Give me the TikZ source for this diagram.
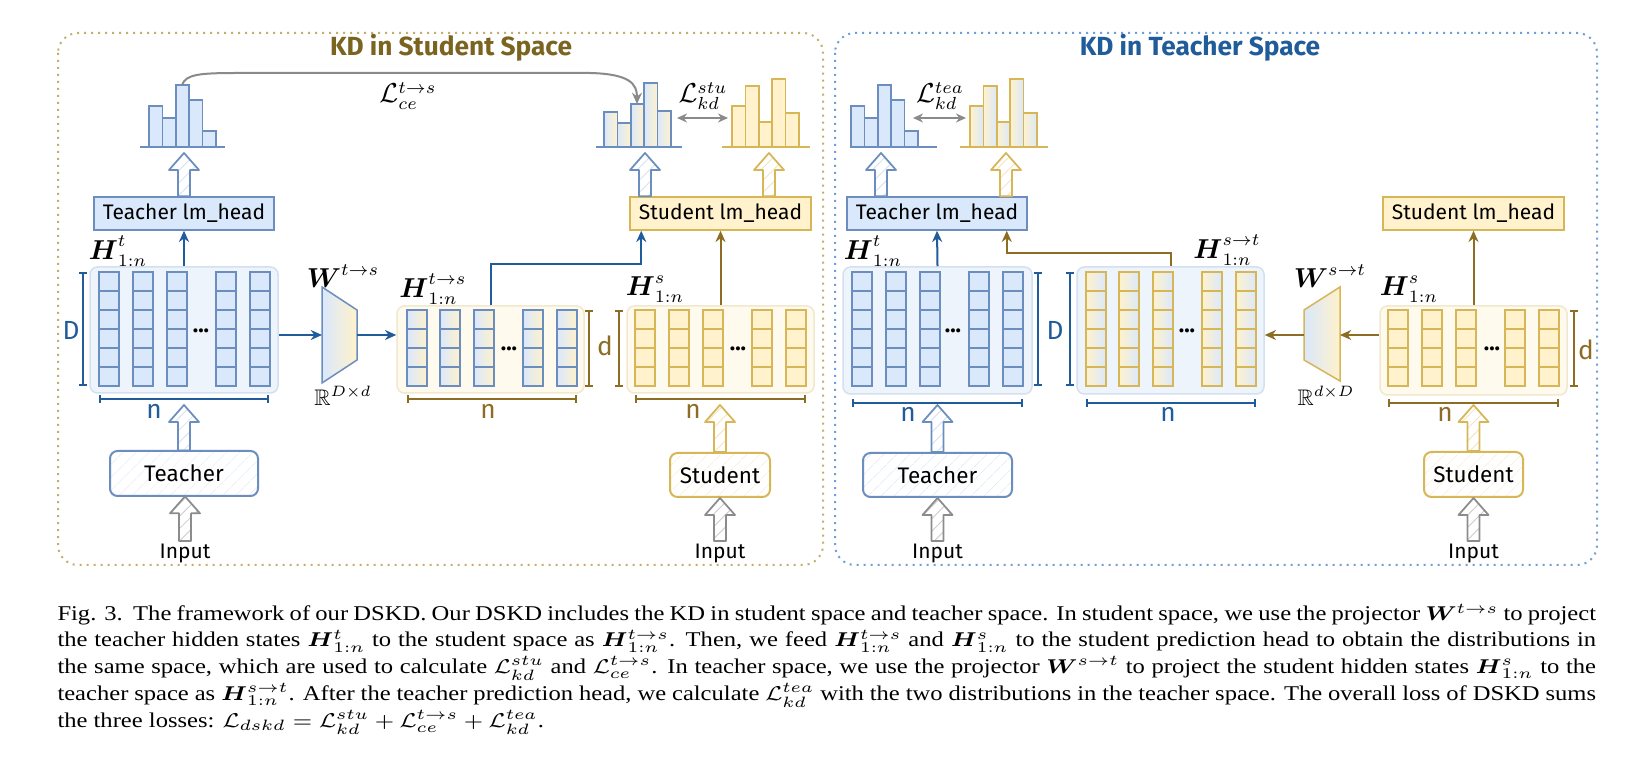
\documentclass[tikz,border=0pt]{standalone}
\usepackage{fontspec}
\usepackage{amsmath,amssymb}
\usepackage{graphicx}
\usetikzlibrary{arrows.meta,patterns.meta,calc}
\newfontfamily\dfont{Fira Sans}
\newfontfamily\capfont{Liberation Serif}
\definecolor{bB}{HTML}{6C8EBF}
\definecolor{bF}{HTML}{DAE8FC}
\definecolor{yB}{HTML}{D6B656}
\definecolor{yF}{HTML}{FFF2CC}
\definecolor{dB}{HTML}{1F5C99}
\definecolor{oA}{HTML}{8C6D23}
\definecolor{tO}{HTML}{7A6420}
\definecolor{cBF}{HTML}{EEF4FB}
\definecolor{cBB}{HTML}{D4E0EF}
\definecolor{cYF}{HTML}{FEFAEE}
\definecolor{cYB}{HTML}{F1E8CE}
\definecolor{pO}{HTML}{C4AE6E}
\definecolor{pB}{HTML}{6F9FD4}
\definecolor{gA}{HTML}{8A8A8A}
\newlength\capw \setlength\capw{526pt}
\newcommand\capline[1]{\scalebox{1.17}[1]{\makebox[\capw][s]{#1}}}
\newcommand\capend[1]{\scalebox{1.17}[1]{#1}}
\newcommand\mcols[4]{\foreach \cx in {#1}{\foreach \k in {1,...,#3}{\draw[#4] (\cx,#2+\k*19-19) rectangle ++(20,19);}}}
\newcommand\histo[5]{\foreach \t [count=\i from 0] in {#4}{\draw[#5] (#1+\i*13.4,\t) rectangle (#1+\i*13.4+13.4,147);}}
\newcommand\bH{\boldsymbol{H}}
\newcommand\bW{\boldsymbol{W}}
\tikzset{
  hollow/.style={line width=0.7pt, line join=round,
    pattern={Lines[angle=45,distance=3.5pt,line width=0.35pt]},
    to path={let \p1=(\tikztostart), \p2=(\tikztotarget) in
      (\x1-2.4pt,\y1) -- (\x1-2.4pt,\y2-6.8pt) -- (\x1-6pt,\y2-6.8pt) -- (\x1,\y2)
      -- (\x1+6pt,\y2-6.8pt) -- (\x1+2.4pt,\y2-6.8pt) -- (\x1+2.4pt,\y1) -- cycle}},
  hollowB/.style={hollow, draw=bB, pattern color=bF!70!bB!60},
  hollowY/.style={hollow, draw=yB, pattern color=yF!60!yB!70},
  hollowG/.style={hollow, draw=gray!90, pattern color=gray!40},
  headB/.style={draw=bB, fill=bF, line width=0.6pt, inner sep=0pt, minimum height=13.2pt, font=\dfont\fontsize{8.4}{10}\selectfont},
  headY/.style={draw=yB, fill=yF, line width=0.6pt, inner sep=0pt, minimum height=13.2pt, font=\dfont\fontsize{8.4}{10}\selectfont},
  contB/.style={draw=cBB, fill=cBF, rounded corners=3pt, line width=0.6pt, inner sep=0pt},
  contY/.style={draw=cYB, fill=cYF, rounded corners=3pt, line width=0.6pt, inner sep=0pt},
  modelB/.style={draw=bB, rounded corners=3pt, line width=0.8pt, inner sep=0pt,
    pattern={Lines[angle=45,distance=4pt,line width=0.3pt]}, pattern color=bF!80!bB!70,
    font=\dfont\fontsize{9}{10}\selectfont},
  modelY/.style={draw=yB, rounded corners=3pt, line width=0.8pt, inner sep=0pt,
    pattern={Lines[angle=45,distance=4pt,line width=0.3pt]}, pattern color=yF!60!yB!60,
    font=\dfont\fontsize{9}{10}\selectfont},
  inp/.style={inner sep=1pt, anchor=north, font=\dfont\fontsize{8.4}{10}\selectfont},
  cellB/.style={draw=bB, fill=bF, line width=0.5pt},
  cellY/.style={draw=yB, fill=yF, line width=0.5pt},
  cellBY/.style={draw=bB, left color=bF, right color=yF, line width=0.5pt},
  cellYB/.style={draw=yB, left color=yF, right color=bF, line width=0.5pt},
  arrB/.style={draw=dB, line width=0.8pt, -{Stealth[length=4.5pt,width=4pt]}},
  arrO/.style={draw=oA, line width=0.8pt, -{Stealth[length=4.5pt,width=4pt]}},
  arrG/.style={draw=gA, line width=0.8pt, {Stealth[length=4pt,width=3.6pt]}-{Stealth[length=4pt,width=3.6pt]}},
  brkB/.style={draw=dB, line width=0.7pt, {Bar[width=3.2pt]}-{Bar[width=3.2pt]}},
  brkO/.style={draw=oA, line width=0.7pt, {Bar[width=3.2pt]}-{Bar[width=3.2pt]}},
  dimB/.style={text=dB, font=\dfont\fontsize{10.5}{12}\selectfont},
  dimO/.style={text=oA, font=\dfont\fontsize{10.5}{12}\selectfont},
  mlab/.style={font=\fontsize{10.5}{11}\selectfont, inner sep=0pt},
  rlab/.style={font=\fontsize{9}{10}\selectfont, inner sep=0pt},
  dots/.style={font=\dfont\bfseries\fontsize{9}{10}\selectfont, inner sep=0pt, anchor=base},
  ttl/.style={font=\dfont\bfseries\fontsize{10.5}{12}\selectfont},
  capl/.style={anchor=base west, inner sep=0pt, font=\capfont\fontsize{8.4}{10}\selectfont}
}
\begin{document}
\begin{tikzpicture}[x=0.4pt,y=-0.4pt]
\useasboundingbox (0,0) rectangle (1650,770);
\fill[white] (0,0) rectangle (1650,770);

% panels
\draw[pO, dotted, line width=0.8pt, rounded corners=8pt] (58,33) rectangle (823,565);
\draw[pB, dotted, line width=0.8pt, rounded corners=8pt] (835,33) rectangle (1597,565);
\node[ttl, text=tO] (titleL) at (451,48) {KD in Student Space};
\node[ttl, text=dB] (titleR) at (1200,48) {KD in Teacher Space};

%%%%%%%%%%%%%%%% LEFT PANEL %%%%%%%%%%%%%%%%
\histo{149}{140}{225}{106,118,85,100,131}{draw=bB, fill=bF, line width=0.6pt}
\draw[bB, line width=0.6pt] (140,147) -- (225,147);
\histo{604}{596}{682}{112,123,104,83,111}{draw=bB, left color=bF, right color=yF, line width=0.6pt}
\draw[bB, line width=0.6pt] (596,147) -- (682,147);
\histo{732}{722}{810}{106,86,122,79,113}{draw=yB, fill=yF, line width=0.6pt}
\draw[yB, line width=0.6pt] (722,147) -- (810,147);
\coordinate (tbar) at (182,85);
\coordinate (sbar) at (637,104);
\coordinate (kdL1) at (677,118);
\coordinate (kdL2) at (728,118);
\draw[gA, line width=0.8pt, -{Stealth[length=4.5pt,width=4pt]}] (tbar) .. controls (186,74) and (200,73) .. (240,73) -- (590,73) .. controls (630,74) and (637,84) .. (sbar);
\node[mlab] (Lce) at (408,96) {$\mathcal{L}_{ce}^{t\rightarrow s}$};
\draw[arrG] (kdL1) -- (kdL2);
\node[mlab] (Lstu) at (703,96) {$\mathcal{L}_{kd}^{stu}$};

\node[headB, minimum width=72pt] (thL) at (184,213.5) {Teacher lm\_head};
\node[headY, minimum width=72.4pt] (shL) at (720.5,213.5) {Student lm\_head};
\coordinate (thLh) at (184,153);
\coordinate (sLh1) at (645,153);
\coordinate (sLh2) at (769,153);
\draw[hollowB] (thL.north) to (thLh);
\draw[hollowB] (sLh1 |- shL.north) to (sLh1);
\draw[hollowY] (sLh2 |- shL.north) to (sLh2);

\node[contB, minimum width=75.2pt, minimum height=50.4pt] (HtL) at (184,330) {};
\node[contY, minimum width=74.8pt, minimum height=34.8pt] (HtsL) at (490.5,349.5) {};
\node[contY, minimum width=74.8pt, minimum height=34.8pt] (HsL) at (720.5,349.5) {};
\mcols{99,133,167,216,250}{272}{6}{cellB}
\mcols{407,440,474,523,557}{310}{4}{cellBY}
\mcols{635,669,703,752,786}{310}{4}{cellY}
\node[dots] at (201,333) {...};
\node[dots] at (509,351) {...};
\node[dots] at (738,351) {...};
\node[mlab] (HtLlab) at (118,251) {$\bH_{1:n}^{t}$};
\node[mlab] (HtsLlab) at (433,289) {$\bH_{1:n}^{t\rightarrow s}$};
\node[mlab] (HsLlab) at (655,289) {$\bH_{1:n}^{s}$};

\draw[brkB] (83,272) -- (83,386);
\node[dimB] at (71,330) {D};
\draw[brkB] (99,399) -- (269,399);
\node[dimB] at (154,411) {n};
\draw[brkO] (589,310) -- (589,387);
\draw[brkO] (619,310) -- (619,387);
\node[dimO] at (605,346) {d};
\draw[brkO] (407,399) -- (577,399);
\node[dimO] at (488,411) {n};
\draw[brkO] (635,399) -- (806,399);
\node[dimO] at (693,411) {n};

\draw[draw=bB, left color=bF, right color=yF, line width=0.6pt] (322,287) -- (357,310) -- (357,360) -- (322,383) -- cycle;
\coordinate (WLin) at (322,335);
\coordinate (WLout) at (357,335);
\node[mlab] (WLlab) at (343,276) {$\bW^{t\rightarrow s}$};
\node[rlab] (RL) at (343,396) {$\mathbb{R}^{D\times d}$};
\draw[arrB] (HtL.east |- WLin) -- (WLin);
\draw[arrB] (WLout) -- (HtsL.west |- WLout);

\draw[arrB] (HtL.north) -- (thL.south);
\draw[arrB] (HtsL.north) -- ++(0,-41) -| ([xshift=4.8pt]shL.south west);
\draw[arrO] (HsL.north) -- (shL.south);

\node[modelB, minimum width=59.2pt, minimum height=18pt] (teacherL) at (184,473.5) {Teacher};
\node[modelY, minimum width=40pt, minimum height=17.6pt] (studentL) at (720,475) {Student};
\coordinate (tLn) at (184,405);
\coordinate (sLn) at (720,405);
\draw[hollowB] (teacherL.north) to (tLn);
\draw[hollowY] (studentL.north) to (sLn);
\node[inp] (inL1) at (185,541) {Input};
\node[inp] (inL2) at (720,541) {Input};
\draw[hollowG] (inL1.north) to (teacherL.south);
\draw[hollowG] (inL2.north) to (studentL.south);

%%%%%%%%%%%%%%%% RIGHT PANEL %%%%%%%%%%%%%%%%
\histo{851}{850}{937}{106,118,85,100,131}{draw=bB, fill=bF, line width=0.6pt}
\draw[bB, line width=0.6pt] (850,147) -- (937,147);
\histo{970}{960}{1048}{106,86,122,79,113}{draw=yB, left color=yF, right color=bF, line width=0.6pt}
\draw[yB, line width=0.6pt] (960,147) -- (1048,147);
\coordinate (kdR1) at (913,118);
\coordinate (kdR2) at (966,118);
\draw[arrG] (kdR1) -- (kdR2);
\node[mlab] (Ltea) at (940,96) {$\mathcal{L}_{kd}^{tea}$};

\node[headB, minimum width=72pt] (thR) at (937,213.5) {Teacher lm\_head};
\node[headY, minimum width=72.4pt] (shR) at (1473.5,213.5) {Student lm\_head};
\coordinate (tRh1) at (881,153);
\coordinate (tRh2) at (1006,153);
\draw[hollowB] (tRh1 |- thR.north) to (tRh1);
\draw[hollowY] (tRh2 |- thR.north) to (tRh2);

\node[contB, minimum width=75.6pt, minimum height=50.8pt] (HtR) at (937.5,330.5) {};
\node[contB, minimum width=74.8pt, minimum height=50.8pt] (HstR) at (1170.5,330.5) {};
\node[contY, minimum width=74.8pt, minimum height=35.6pt] (HsR) at (1473.5,350.5) {};
\mcols{852,886,920,969,1003}{272}{6}{cellB}
\mcols{1086,1119,1153,1202,1236}{272}{6}{cellYB}
\mcols{1388,1422,1456,1505,1539}{310}{4}{cellY}
\node[dots] at (953,333) {...};
\node[dots] at (1187,333) {...};
\node[dots] at (1492,351) {...};
\node[mlab] (HtRlab) at (873,251) {$\bH_{1:n}^{t}$};
\node[mlab] (HstRlab) at (1227,250) {$\bH_{1:n}^{s\rightarrow t}$};
\node[mlab] (HsRlab) at (1409,289) {$\bH_{1:n}^{s}$};

\draw[brkB] (1038,272) -- (1038,386);
\draw[brkB] (1070,272) -- (1070,386);
\node[dimB] at (1055,330) {D};
\draw[brkB] (852,403) -- (1023,403);
\node[dimB] at (908,414) {n};
\draw[brkB] (1086,403) -- (1256,403);
\node[dimB] at (1168,414) {n};
\draw[brkO] (1574,310) -- (1574,387);
\node[dimO] at (1586,350) {d};
\draw[brkO] (1388,403) -- (1559,403);
\node[dimO] at (1445,414) {n};

\draw[draw=yB, left color=bF, right color=yF, line width=0.6pt] (1304,310) -- (1340,287) -- (1340,381) -- (1304,360) -- cycle;
\coordinate (WRin) at (1340,335);
\coordinate (WRout) at (1304,335);
\node[mlab] (WRlab) at (1330,276) {$\bW^{s\rightarrow t}$};
\node[rlab] (RR) at (1326,396) {$\mathbb{R}^{d\times D}$};
\draw[arrO] (HsR.west |- WRin) -- (WRin);
\draw[arrO] (WRout) -- (HstR.east |- WRout);

\draw[arrB] (HtR.north) -- (thR.south);
\draw[arrO] (HstR.north) -- ++(0,-13) -| ([xshift=-8.4pt]thR.south east);
\draw[arrO] (HsR.north) -- (shR.south);

\node[modelB, minimum width=59.6pt, minimum height=17.6pt] (teacherR) at (937.5,475) {Teacher};
\node[modelY, minimum width=39.6pt, minimum height=18pt] (studentR) at (1473.5,474.5) {Student};
\coordinate (tRn) at (937.5,405);
\coordinate (sRn) at (1473.5,405);
\draw[hollowB] (teacherR.north) to (tRn);
\draw[hollowY] (studentR.north) to (sRn);
\node[inp] (inR1) at (937.5,541) {Input};
\node[inp] (inR2) at (1473.5,541) {Input};
\draw[hollowG] (inR1.north) to (teacherR.south);
\draw[hollowG] (inR2.north) to (studentR.south);

%%%%%%%%%%%%%%%% CAPTION %%%%%%%%%%%%%%%%
\node[capl] (cap1) at (57,621) {\capline{Fig. 3.\ \ The framework of our DSKD. Our DSKD includes the KD in student space and teacher space. In student space, we use the projector $\bW^{t\rightarrow s}$ to project}};
\node[capl] (cap2) at (57,647) {\capline{the teacher hidden states $\bH^{t}_{1:n}$ to the student space as $\bH^{t\rightarrow s}_{1:n}$. Then, we feed $\bH^{t\rightarrow s}_{1:n}$ and $\bH^{s}_{1:n}$ to the student prediction head to obtain the distributions in}};
\node[capl] (cap3) at (57,673) {\capline{the same space, which are used to calculate $\mathcal{L}^{stu}_{kd}$ and $\mathcal{L}^{t\rightarrow s}_{ce}$. In teacher space, we use the projector $\bW^{s\rightarrow t}$ to project the student hidden states $\bH^{s}_{1:n}$ to the}};
\node[capl] (cap4) at (57,700) {\capline{teacher space as $\bH^{s\rightarrow t}_{1:n}$. After the teacher prediction head, we calculate $\mathcal{L}^{tea}_{kd}$ with the two distributions in the teacher space. The overall loss of DSKD sums}};
\node[capl] (cap5) at (57,727) {\capend{the three losses: $\mathcal{L}_{dskd} = \mathcal{L}^{stu}_{kd} + \mathcal{L}^{t\rightarrow s}_{ce} + \mathcal{L}^{tea}_{kd}$.}};
\end{tikzpicture}
\end{document}
